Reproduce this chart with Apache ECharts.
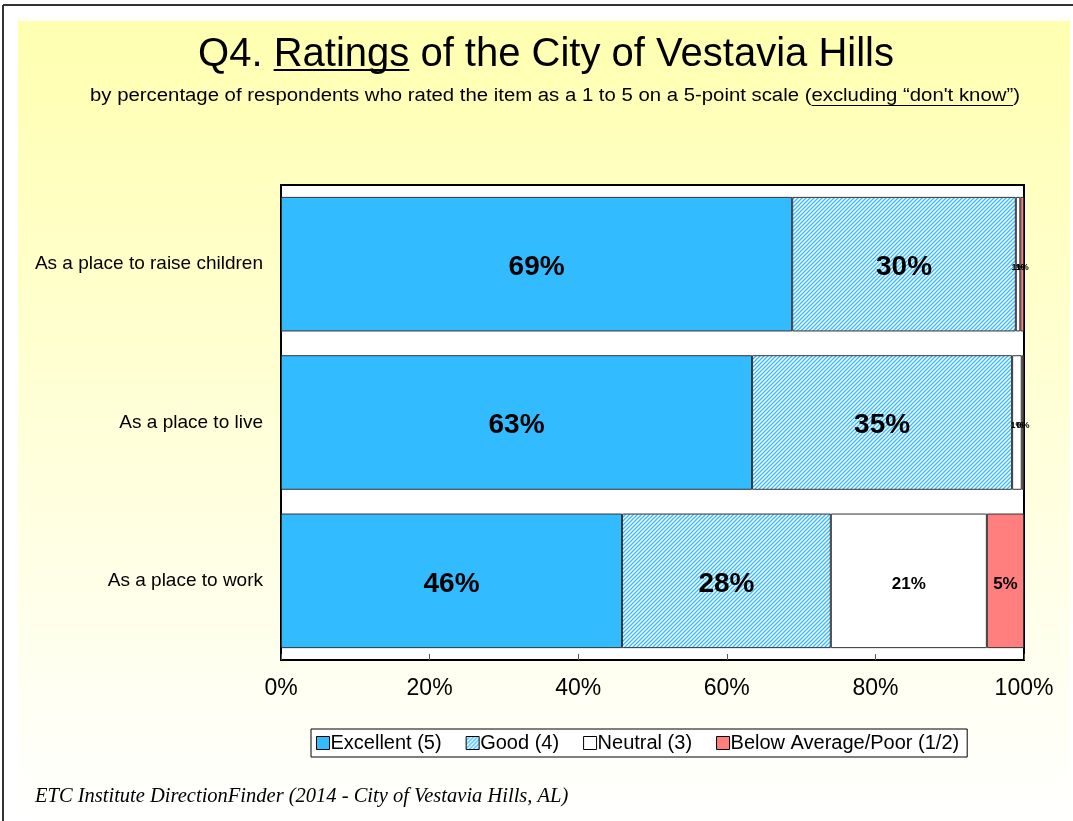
<!DOCTYPE html>
<html>
<head>
<meta charset="utf-8">
<script src="https://cdn.jsdelivr.net/npm/echarts@6/dist/echarts.min.js"></script>
<style>
  html, body { margin: 0; padding: 0; background: #fff; }
  #main { width: 1073px; height: 821px; }
</style>
</head>
<body>
<div id="main"></div>
<script>
const categories = ['As a place to raise children', 'As a place to live', 'As a place to work']
const seriesNames = ['Excellent (5)', 'Good (4)', 'Neutral (3)', 'Below Average/Poor (1/2)']
const excellent = [68.8, 63.4, 45.9]
const good = [30.1, 35.0, 28.1]
const neutral = [0.6, 1.3, 21.0]
const belowAverage = [0.5, 0.3, 5.0]
const xTicks = [0, 20, 40, 60, 80, 100]

const FONT = 'Liberation Sans, Arial'
const subPre = 'by percentage of respondents who rated the item as a 1 to 5 on a 5-point scale ('
const subUnder = 'excluding \u201cdon\'t know\u201d'
const subPost = ')'

// diagonal hatch for "Good"
function hatch() {
  const c = document.createElement('canvas')
  c.width = 4
  c.height = 4
  const ctx = c.getContext('2d')
  ctx.fillStyle = '#fff'
  ctx.fillRect(0, 0, 4, 4)
  ctx.strokeStyle = '#33BBFF'
  ctx.lineWidth = 1.3
  ctx.beginPath()
  ctx.moveTo(-1, 5); ctx.lineTo(5, -1)
  ctx.moveTo(-1, 1); ctx.lineTo(1, -1)
  ctx.moveTo(3, 5); ctx.lineTo(5, 3)
  ctx.stroke()
  return c
}

function textWidth(str, font) {
  const ctx = document.createElement('canvas').getContext('2d')
  ctx.font = font
  return ctx.measureText(str).width
}

const colors = ['#33BBFF', { image: hatch(), repeat: 'repeat' }, '#FFFFFF', '#FF7F7F']
const allValues = [excellent, good, neutral, belowAverage]

function makeData(values) {
  return values.map(v => {
    let size = 28
    if (v < 25) size = 17
    if (v < 3) size = 9
    return { value: v, label: { fontSize: size } }
  })
}

const series = seriesNames.map((name, i) => ({
  name: name,
  type: 'bar',
  stack: 'total',
  barWidth: '85%',
  itemStyle: { color: colors[i], borderColor: '#333', borderWidth: 1 },
  label: {
    show: true,
    position: 'inside',
    offset: [0, 3],
    color: '#000',
    fontWeight: 'bold',
    fontFamily: FONT,
    formatter: p => Math.round(p.value) + '%'
  },
  data: makeData(allValues[i])
}))

// title / subtitle underline positions
const titleFont = '40px ' + FONT
const titleCx = 546
const titleW = textWidth('Q4. Ratings of the City of Vestavia Hills', titleFont)
const rStart = titleCx - titleW / 2 + textWidth('Q4. ', titleFont)
const rEnd = rStart + textWidth('Ratings', titleFont)

const subFont = '18px ' + FONT
const subScale = 1.13
const subCx = 555
const subW = textWidth(subPre + subUnder + subPost, subFont) * subScale
const uStart = subCx - subW / 2 + textWidth(subPre, subFont) * subScale
const uEnd = uStart + textWidth(subUnder, subFont) * subScale

const myChart = echarts.init(document.getElementById('main'))
myChart.setOption({
  animation: false,
  textStyle: { fontFamily: FONT },
  graphic: [
    { type: 'rect', shape: { x: 18, y: 21, width: 1052, height: 800 }, silent: true, z: -10,
      style: { fill: new echarts.graphic.LinearGradient(0, 0, 0, 1, [
        { offset: 0, color: '#FFFFB0' },
        { offset: 0.55, color: '#FFFFDC' },
        { offset: 1, color: '#FFFFFF' }
      ]) } },
    { type: 'line', shape: { x1: 3, y1: 5, x2: 1073, y2: 5 }, style: { stroke: '#333', lineWidth: 2 }, z: -5 },
    { type: 'line', shape: { x1: 3, y1: 5, x2: 3, y2: 821 }, style: { stroke: '#333', lineWidth: 2 }, z: -5 },
    { type: 'text', x: titleCx, y: 35, z: 10,
      style: { text: 'Q4. Ratings of the City of Vestavia Hills', font: titleFont, fill: '#000', align: 'center' } },
    { type: 'line', shape: { x1: rStart, y1: 70, x2: rEnd, y2: 70 }, style: { stroke: '#000', lineWidth: 2 }, z: 10 },
    { type: 'text', x: subCx, y: 87, scaleX: subScale, z: 10,
      style: { text: subPre + subUnder + subPost, font: subFont, fill: '#000', align: 'center' } },
    { type: 'line', shape: { x1: uStart, y1: 105.5, x2: uEnd, y2: 105.5 }, style: { stroke: '#000', lineWidth: 1.2 }, z: 10 },
    { type: 'text', left: 35, top: 787, z: 10,
      style: { text: 'ETC Institute DirectionFinder (2014 - City of Vestavia Hills, AL)', fontSize: 20.5, fontStyle: 'italic', fill: '#000', fontFamily: 'Liberation Serif, Times New Roman' } }
  ],
  legend: {
    data: seriesNames,
    left: 311,
    top: 729,
    padding: [4, 8, 4, 5],
    itemWidth: 13,
    itemHeight: 13,
    itemGap: 24,
    icon: 'rect',
    backgroundColor: '#fff',
    borderColor: '#000',
    borderWidth: 1,
    borderRadius: 0,
    itemStyle: { borderColor: '#000', borderWidth: 1 },
    textStyle: { fontSize: 20, color: '#000', padding: [0, 0, 0, -4] }
  },
  grid: {
    left: 281,
    right: 49,
    top: 185,
    bottom: 161,
    show: true,
    backgroundColor: '#fff',
    borderColor: '#000',
    borderWidth: 2,
    containLabel: false
  },
  xAxis: {
    type: 'value',
    min: xTicks[0],
    max: xTicks[xTicks.length - 1],
    interval: 20,
    axisLine: { show: false },
    axisTick: { show: true, inside: true, length: 6, lineStyle: { color: '#555' } },
    splitLine: { show: false },
    axisLabel: { formatter: '{value}%', fontSize: 23, color: '#000', margin: 17 }
  },
  yAxis: {
    type: 'category',
    data: categories,
    inverse: true,
    axisLine: { show: false },
    axisTick: { show: false },
    axisLabel: { fontSize: 19, color: '#000', margin: 18 }
  },
  series: series
})
</script>
</body>
</html>
